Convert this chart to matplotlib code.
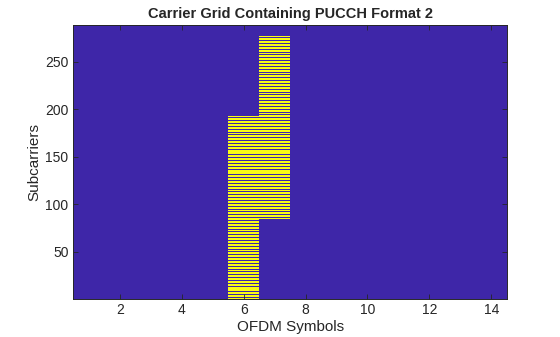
import numpy as np
import matplotlib
matplotlib.use("Agg")
import matplotlib.pyplot as plt
from matplotlib.colors import ListedColormap

# carrier grid dimensions
n_subcarriers = 288   # 24 resource blocks
n_symbols = 14

# PUCCH format 2 allocation (1-based OFDM symbol, first/last RB, 0-based)
pucch_symbols = [6, 7]
pucch_rb_start = [0, 7]
pucch_rb_end = [15, 22]
dmrs_offsets = [1, 4, 7, 10]   # DM-RS subcarriers inside each RB (left empty)

grid = np.zeros((n_subcarriers, n_symbols))
for sym, rb0, rb1 in zip(pucch_symbols, pucch_rb_start, pucch_rb_end):
    for rb in range(rb0, rb1 + 1):
        for k in range(12):
            if k not in dmrs_offsets:
                grid[rb * 12 + k, sym - 1] = 1.0

# parula end points
cmap = ListedColormap(["#3E26A8", "#F9FB15"])

plt.rcParams["font.family"] = ["Liberation Sans", "DejaVu Sans"]
fig = plt.figure(figsize=(5.6, 3.37), dpi=100)
ax = fig.add_axes([0.131, 0.114, 0.774, 0.811])

ax.imshow(grid, cmap=cmap, origin="lower", aspect="auto",
          interpolation="nearest", vmin=0, vmax=1,
          extent=[0.5, n_symbols + 0.5, 0.5, n_subcarriers + 0.5])

ax.set_xticks(np.arange(2, 15, 2))
ax.set_yticks(np.arange(50, 251, 50))
ax.tick_params(direction="in", length=3.5, width=0.6, top=True, right=True,
               labelsize=10, colors="#262626")
for s in ax.spines.values():
    s.set_linewidth(0.7)
    s.set_color("#262626")

ax.set_title("Carrier Grid Containing PUCCH Format 2", fontsize=10.5,
             fontweight="bold", color="#262626", pad=5)
ax.set_xlabel("OFDM Symbols", fontsize=11, color="#262626", labelpad=2)
ax.set_ylabel("Subcarriers", fontsize=11, color="#262626", labelpad=3)

fig.savefig("out.png", dpi=100)
